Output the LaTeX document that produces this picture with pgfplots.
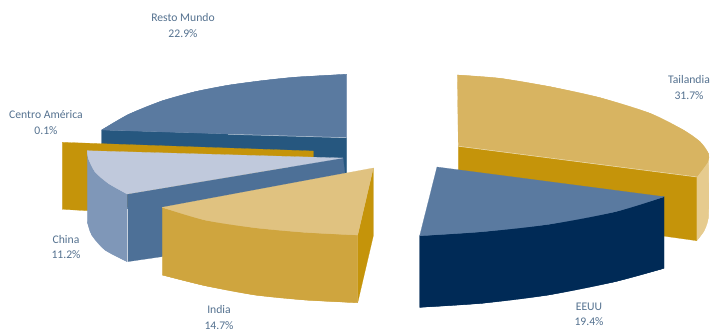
\documentclass[border=0pt]{standalone}
\usepackage{fontspec}
\setmainfont{Carlito}
\usepackage{pgfplots}
\pgfplotsset{compat=1.18}
\definecolor{restoTop}{HTML}{5A7AA0}
\definecolor{restoSide}{HTML}{26577F}
\definecolor{gold}{HTML}{C5940A}
\definecolor{chinaTop}{HTML}{C0C9DC}
\definecolor{chinaRim}{HTML}{7F97B8}
\definecolor{chinaSide}{HTML}{4D7097}
\definecolor{indiaTop}{HTML}{E0C280}
\definecolor{indiaFront}{HTML}{CFA53E}
\definecolor{eeuuFront}{HTML}{002A56}
\definecolor{thaiTop}{HTML}{D8B461}
\definecolor{thaiRim}{HTML}{E6CB8E}
\definecolor{labelInk}{HTML}{54718F}
% A face is a polygon through its corners and arc points; a smooth cap
% through the same arc points is filled beneath it to round the outer edge.
\pgfplotsset{
  face/.style={fill=#1, draw=#1, line width=0.2pt, line join=round, mark=none, forget plot},
  cap/.style={face=#1, smooth},
  glint/.style={draw=white, draw opacity=0.65, line width=0.5pt, mark=none, forget plot},
}
\tikzset{share/.style={text=labelInk, font=\fontsize{11.7}{15.3}\selectfont, align=center}}
\begin{document}
\begin{tikzpicture}
\path[use as bounding box] (0,0) rectangle (710bp,329bp);
\begin{axis}[
  anchor=south west, at={(0,0)},
  scale only axis, width=710bp, height=329bp,
  xmin=0, xmax=710, ymin=0, ymax=329, y dir=reverse,
  hide axis, clip=false,
]
% Resto Mundo
\addplot[face=restoSide] coordinates {(101.7,130) (346.7,137.5) (346.7,174) (101.7,144)} -- cycle;
\addplot[cap=restoTop] coordinates {(101.7,130) (128.3,114.5) (161.7,101) (195,91.7) (228.3,85.2) (261.7,80.7) (295,77.2) (346.7,74.3)};
\addplot[face=restoTop] coordinates {(101.7,130) (128.3,114.5) (161.7,101) (195,91.7) (228.3,85.2) (261.7,80.7) (295,77.2) (346.7,74.3) (346.7,137.7)} -- cycle;
\addplot[glint] coordinates {(228,134.3) (346.7,137.7)};
% Centro America
\addplot[face=gold] coordinates {(62.3,142.3) (313.3,151) (313.3,157) (200,200) (87.3,210.7) (62.3,209.3)} -- cycle;
% China
\addplot[cap=chinaRim] coordinates {(87.3,221.7) (91.7,235) (105,250) (127.3,261.7)};
\addplot[face=chinaRim] coordinates {(87.3,150.7) (127.3,194) (127.3,261.7) (105,250) (91.7,235) (87.3,221.7)} -- cycle;
\addplot[face=chinaSide] coordinates {(127.3,194) (343,158) (345,174) (161.7,256.7) (127.3,261.7)} -- cycle;
\addplot[cap=chinaTop] coordinates {(87.3,150.7) (88.3,158.3) (95,171.7) (108.3,183.3) (127.3,194)};
\addplot[face=chinaTop] coordinates {(87.3,150.7) (88.3,158.3) (95,171.7) (108.3,183.3) (127.3,194) (343,158)} -- cycle;
\addplot[glint] coordinates {(127.3,209) (127.3,261.7)};
% India
\addplot[face=gold] coordinates {(373.3,168) (373.3,236) (357.7,302.7) (357.7,235)} -- cycle;
\addplot[cap=indiaFront] coordinates {(162.3,275) (205,285.7) (255,295) (305,300) (357.7,302.7)};
\addplot[face=indiaFront] coordinates {(162.3,207.3) (357.7,235) (357.7,302.7) (305,300) (255,295) (205,285.7) (162.3,275)} -- cycle;
\addplot[cap=indiaTop] coordinates {(162.3,207.3) (205,220) (255,227.7) (305,232.3) (357.7,235)};
\addplot[face=indiaTop] coordinates {(373.3,168) (357.7,235) (305,232.3) (255,227.7) (205,220) (162.3,207.3)} -- cycle;
% Tailandia
\addplot[cap=thaiRim] coordinates {(708.3,153.3) (708.8,190) (708.3,218) (704,231) (696.7,240.7)};
\addplot[face=thaiRim] coordinates {(696.7,176.7) (708.3,153.3) (708.8,190) (708.3,218) (704,231) (696.7,240.7)} -- cycle;
\addplot[face=gold] coordinates {(458.3,146) (696.7,176.7) (696.7,240.7) (663,236) (458.3,200)} -- cycle;
\addplot[cap=thaiTop] coordinates {(457.3,75) (500,78.3) (550,86.7) (600,97.7) (650,113.3) (683.3,130) (700,141.7) (708.3,153.3) (707.7,161.7) (696.7,176.7)};
\addplot[face=thaiTop] coordinates {(457.3,75) (500,78.3) (550,86.7) (600,97.7) (650,113.3) (683.3,130) (700,141.7) (708.3,153.3) (707.7,161.7) (696.7,176.7) (458.3,146)} -- cycle;
\addplot[glint] coordinates {(458.3,146.3) (696.7,177)};
% EEUU
\addplot[cap=eeuuFront] coordinates {(419.7,307.3) (481.7,303.3) (548.3,295) (615,281.7) (664,268.3)};
\addplot[face=eeuuFront] coordinates {(419.7,235.7) (664,196.7) (664,268.3) (615,281.7) (548.3,295) (481.7,303.3) (419.7,307.3)} -- cycle;
\addplot[cap=restoTop] coordinates {(419.7,235.7) (481.7,231.7) (548.3,224.3) (615,211.7) (664,196.7)};
\addplot[face=restoTop] coordinates {(437,167) (664,196.7) (615,211.7) (548.3,224.3) (481.7,231.7) (419.7,235.7)} -- cycle;
% Share labels
\node[share] at (axis cs:183,25.5) {Resto Mundo\\22.9\%};
\node[share] at (axis cs:46,122.5) {Centro América\\0.1\%};
\node[share] at (axis cs:66,247) {China\\11.2\%};
\node[share] at (axis cs:219,317.5) {India\\14.7\%};
\node[share] at (axis cs:589,314.5) {EEUU\\19.4\%};
\node[share] at (axis cs:689,87.5) {Tailandia\\31.7\%};
\end{axis}
\end{tikzpicture}
\end{document}
